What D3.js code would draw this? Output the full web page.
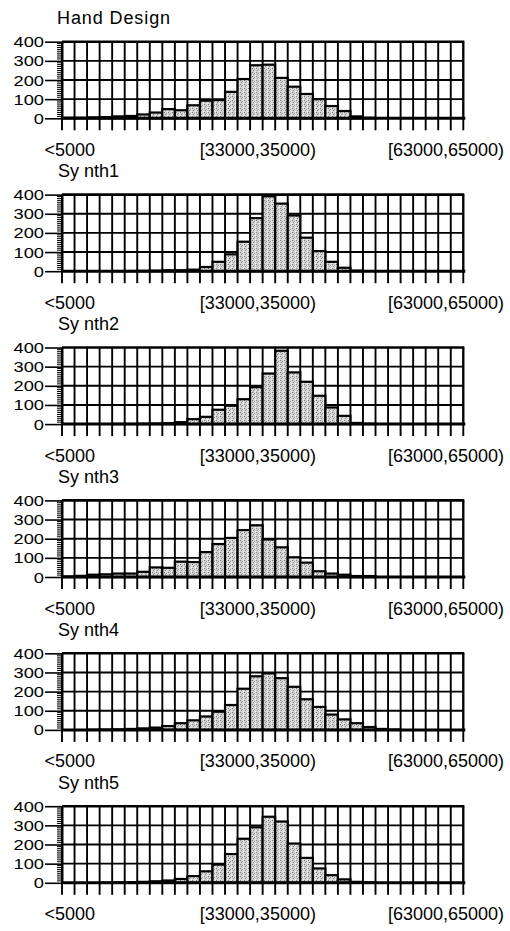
<!DOCTYPE html>
<html><head><meta charset="utf-8">
<script src="https://cdn.jsdelivr.net/npm/d3@7"></script>
<style>
body{margin:0;background:#fff}
svg{display:block}
text{font-family:"Liberation Sans",Arial,Helvetica,sans-serif;fill:#000}
</style>
</head><body>
<svg id="chart" width="510" height="931"></svg>
<script>
const categories = ["<5000","[5000,7000)","[7000,9000)","[9000,11000)","[11000,13000)","[13000,15000)",
  "[15000,17000)","[17000,19000)","[19000,21000)","[21000,23000)","[23000,25000)","[25000,27000)",
  "[27000,29000)","[29000,31000)","[31000,33000)","[33000,35000)","[35000,37000)","[37000,39000)",
  "[39000,41000)","[41000,43000)","[43000,45000)","[45000,47000)","[47000,49000)","[49000,51000)",
  "[51000,53000)","[53000,55000)","[55000,57000)","[57000,59000)","[59000,61000)","[61000,63000)",
  "[63000,65000)",">=65000"];
const shownLabels = ["<5000","[33000,35000)","[63000,65000)"];
const panelTitles = ["Hand Design","Sy nth1","Sy nth2","Sy nth3","Sy nth4","Sy nth5"];
const yTicks = [0,100,200,300,400];

const handDesign = [3,3,5,6,10,12,20,30,48,42,68,92,95,138,205,277,280,211,165,127,100,64,38,10,3,0,0,0,0,0,0,0];
const synth1 = [0,0,0,0,1,1,2,3,5,5,8,22,49,88,154,277,391,353,291,175,105,49,18,3,0,0,0,0,0,0,0,0];
const synth2 = [0,0,0,0,1,1,2,3,5,10,26,38,75,96,130,193,264,383,270,221,148,87,43,6,2,0,0,0,0,0,0,0];
const synth3 = [3,6,12,14,18,18,27,50,48,80,78,130,172,204,245,270,196,155,103,75,30,18,12,5,5,0,0,0,0,0,0,0];
const synth4 = [0,0,1,2,3,5,8,12,20,35,50,70,95,130,215,280,295,270,225,160,120,80,55,35,15,5,2,0,0,0,0,0];
const synth5 = [0,0,0,1,2,3,5,8,12,20,35,60,95,150,230,290,345,320,205,130,75,40,18,5,2,0,0,0,0,0,0,0];
const seriesList = [handDesign, synth1, synth2, synth3, synth4, synth5];

const svg = d3.select("#chart");

// stipple pattern
const defs = svg.append("defs");
const pat = defs.append("pattern").attr("id","stip").attr("patternUnits","userSpaceOnUse")
  .attr("width",4).attr("height",4);
pat.append("rect").attr("width",4).attr("height",4).attr("fill","#d4d4d4");
[[0,0,"#7a7a7a"],[2,1,"#9a9a9a"],[1,2,"#8a8a8a"],[3,3,"#f4f4f4"],[3,1,"#ececec"]].forEach(([x,y,c])=>{
  pat.append("rect").attr("x",x).attr("y",y).attr("width",1).attr("height",1).attr("fill",c);
});

const x = d3.scaleBand().domain(categories).range([62, 463.3]).paddingInner(0).paddingOuter(0);
const panelTop = d3.scaleLinear().domain([0,5]).range([41.7, 806.2]);
const plotH = 76.6;

seriesList.forEach((vals, pi) => {
  const top = panelTop(pi);
  const y = d3.scaleLinear().domain([0,400]).range([top + plotH, top]);
  const g = svg.append("g");
  const x0 = x.range()[0], x1 = x.range()[1];

  // title
  g.append("text").attr("x", pi === 0 ? 57 : 58).attr("y", top - 17.4).attr("font-size", 18)
    .attr("letter-spacing", pi === 0 ? 0.9 : 0).text(panelTitles[pi]);

  // vertical grid lines at every bin boundary
  const bounds = categories.map(c => x(c)).concat([x1]);
  g.selectAll(".vg").data(bounds).join("line")
    .attr("x1", d=>d).attr("x2", d=>d).attr("y1", top).attr("y2", top + plotH + 12)
    .attr("stroke","#000").attr("stroke-width",1.9);
  // horizontal grid lines
  g.selectAll(".hg").data(yTicks.filter(t=>t>0 && t<400)).join("line")
    .attr("x1", x0).attr("x2", x1).attr("y1", d=>y(d)).attr("y2", d=>y(d))
    .attr("stroke","#000").attr("stroke-width",1.9);

  // bars
  g.selectAll(".bar").data(vals.map((v,i)=>({c:categories[i], v}))).join("rect")
    .attr("x", d=>x(d.c)).attr("width", x.bandwidth())
    .attr("y", d=>y(d.v)).attr("height", d=>y(0)-y(d.v))
    .attr("fill","url(#stip)").attr("stroke","#000").attr("stroke-width",2.2);

  // frame: top and right
  g.append("line").attr("x1", x0).attr("x2", x1+1).attr("y1", top).attr("y2", top)
    .attr("stroke","#000").attr("stroke-width",2.6);
  g.append("line").attr("x1", x1).attr("x2", x1).attr("y1", top).attr("y2", top+plotH)
    .attr("stroke","#000").attr("stroke-width",2);

  // x axis (bottom)
  g.append("line").attr("x1", x0).attr("x2", x1+2).attr("y1", y(0)).attr("y2", y(0))
    .attr("stroke","#000").attr("stroke-width",3);

  // y axis
  const yAxis = d3.axisLeft(y).tickValues(yTicks).tickSize(17).tickPadding(1).tickSizeOuter(0);
  const ya = g.append("g").attr("transform", `translate(${x0},0)`).call(yAxis);
  ya.select(".domain").attr("stroke","#000").attr("stroke-width",2);
  ya.selectAll(".tick line").attr("stroke","#000").attr("stroke-width",1.6);
  ya.selectAll(".tick text").attr("font-size",15.5).attr("font-family",'"Liberation Sans",Arial,sans-serif')
    .attr("fill","#000").attr("x",0).attr("dy",null).attr("dominant-baseline","central")
    .attr("text-anchor","end")
    .attr("transform", "translate(-18,0) scale(1.18,1)");
  // minor ticks
  const minor = d3.range(0, 401, 10).filter(v => v % 100 !== 0);
  g.selectAll(".mt").data(minor).join("line")
    .attr("x1", x0-5).attr("x2", x0).attr("y1", d=>y(d)).attr("y2", d=>y(d))
    .attr("stroke","#000").attr("stroke-width",1);

  // x labels
  g.selectAll(".xl").data(shownLabels).join("text")
    .attr("x", d => x(d) + x.bandwidth()/2 + 1.5).attr("y", y(0) + 37.5)
    .attr("text-anchor","middle").attr("font-size",18).text(d=>d);
});
</script>
</body></html>
